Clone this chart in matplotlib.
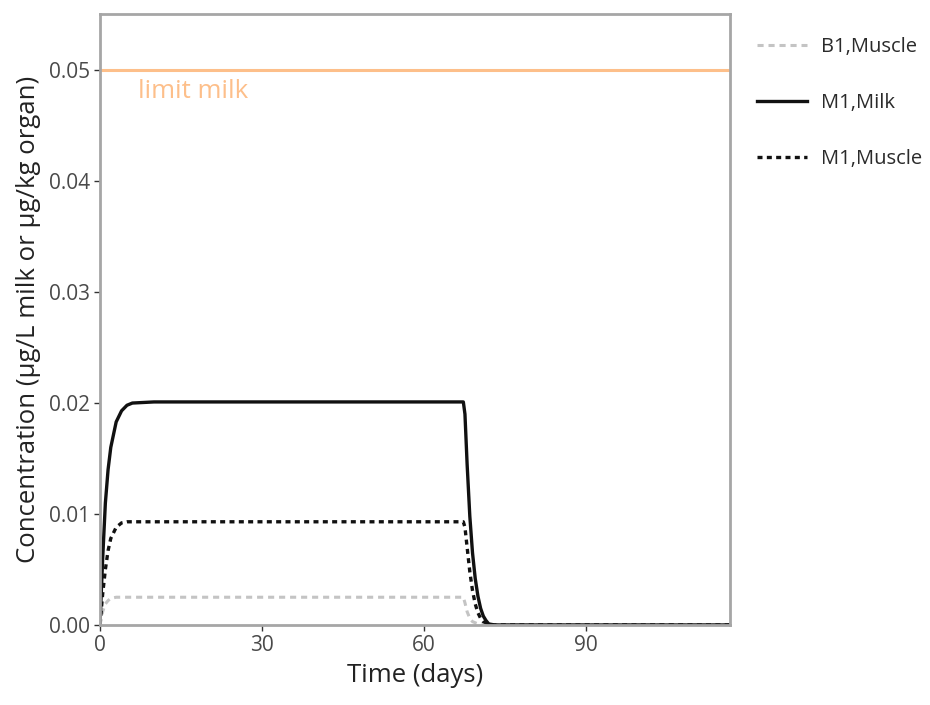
import matplotlib.pyplot as plt

plt.rcParams['font.family'] = ['Open Sans', 'DejaVu Sans']

# time (days) and concentrations
milk_t = [0, 0.5, 1, 1.5, 2, 3, 4, 5, 6, 10, 67.3, 67.6, 68, 68.5, 69, 69.5, 70, 70.5, 71, 71.5, 72, 73, 117]
milk_c = [0, 0.006, 0.011, 0.014, 0.016, 0.0183, 0.0193, 0.0198, 0.0200, 0.0201, 0.0201, 0.019, 0.0145,
          0.0098, 0.0065, 0.0042, 0.0026, 0.0015, 0.0008, 0.0004, 0.0001, 0, 0]

m1_mus_t = [0, 0.5, 1, 1.5, 2, 3, 4, 5, 67.3, 67.6, 68, 68.5, 69, 69.5, 70, 70.5, 71, 72, 73, 117]
m1_mus_c = [0, 0.0028, 0.005, 0.0067, 0.0078, 0.0088, 0.0092, 0.0093, 0.0093, 0.0088, 0.007, 0.0048,
            0.0031, 0.0019, 0.0011, 0.0006, 0.0003, 0.0001, 0, 0]

b1_mus_t = [0, 0.5, 1, 1.5, 2, 3, 67.3, 67.6, 68, 68.5, 69, 70, 71, 117]
b1_mus_c = [0, 0.0012, 0.0019, 0.0022, 0.0024, 0.0025, 0.0025, 0.002, 0.0012, 0.0006, 0.0003, 0.0001, 0, 0]

limit_milk = 0.05

fig = plt.figure(figsize=(9.3, 7.05), dpi=100)
ax = fig.add_axes([0.1075, 0.1135, 0.6775, 0.8665])

ax.axhline(limit_milk, color='#fdbf8a', lw=2.2, zorder=1)
ax.text(7, limit_milk - 0.0008, 'limit milk', color='#fdbf8a', fontsize=18.5, va='top', ha='left')

ax.plot(b1_mus_t, b1_mus_c, color='#c4c4c4', lw=2.2, dashes=(2, 1.6), label='B1,Muscle')
ax.plot(milk_t, milk_c, color='#111111', lw=2.4, label='M1,Milk')
ax.plot(m1_mus_t, m1_mus_c, color='#111111', lw=2.4, dashes=(1.5, 1.3), label='M1,Muscle')

ax.set_xlim(0, 116.7)
ax.set_ylim(0, 0.05505)
ax.set_xticks([0, 30, 60, 90])
ax.set_yticks([0, 0.01, 0.02, 0.03, 0.04, 0.05])
ax.set_yticklabels(['0.00', '0.01', '0.02', '0.03', '0.04', '0.05'])
ax.tick_params(labelsize=15, colors='#333333', labelcolor='#4a4a4a', length=4, width=1, pad=3)
for s in ax.spines.values():
    s.set_color('#a6a6a6')
    s.set_linewidth(2)

ax.set_xlabel('Time (days)', fontsize=18.5, color='#222222', labelpad=5)
ax.set_ylabel('Concentration (µg/L milk or µg/kg organ)', fontsize=18.5, color='#222222', labelpad=6)

leg = ax.legend(loc='upper left', bbox_to_anchor=(1.03, 0.975), frameon=False, fontsize=14.5,
                handlelength=2.5, labelspacing=1.78, handletextpad=0.7, borderaxespad=0)
for t in leg.get_texts():
    t.set_color('#2a2a2a')

fig.savefig('out.png', dpi=100)
